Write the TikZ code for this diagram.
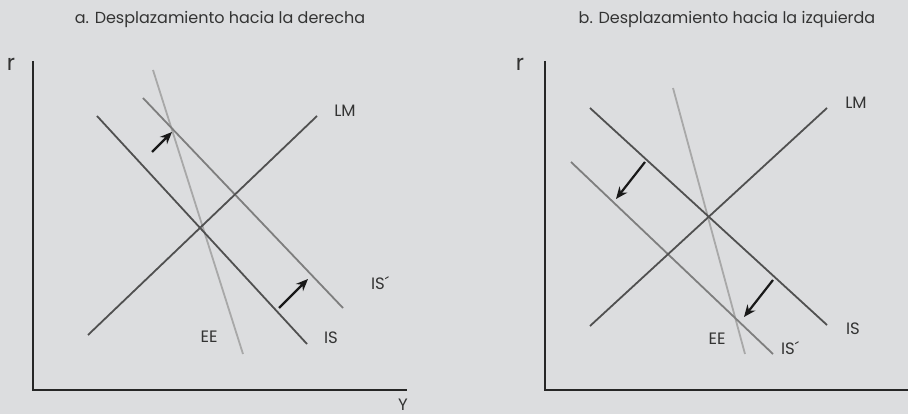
\documentclass[tikz,border=0pt]{standalone}
\usepackage{fontspec}
\setmainfont{Poppins}
\usetikzlibrary{arrows.meta}
\definecolor{bg}{HTML}{DCDDDF}
\definecolor{txt}{HTML}{333333}
\definecolor{dark}{HTML}{505050}
\definecolor{mid}{HTML}{7E7E7E}
\definecolor{light}{HTML}{A8A8A8}
\tikzset{
  axis/.style={line width=2.6pt, draw=black!85},
  curvedark/.style={line width=1.8pt, draw=dark},
  curvemid/.style={line width=1.8pt, draw=mid},
  curvelight/.style={line width=1.8pt, draw=light},
  shiftarrow/.style={line width=2.2pt, draw=black!90, -{Stealth[length=12pt,width=10pt]}},
  lbl/.style={font=\fontsize{16.5}{18}\selectfont, text=txt, inner sep=0pt},
  rlbl/.style={font=\fontsize{22}{24}\selectfont, text=txt, inner sep=0pt},
  ttl/.style={font=\fontsize{16}{18}\selectfont, text=txt, inner sep=0pt},
}
\begin{document}
\begin{tikzpicture}[x=1pt,y=-1pt]
\fill[bg] (0,0) rectangle (908,414);
\useasboundingbox (0,0) rectangle (908,414);
% ---------- panel a ----------
\node[ttl] (ta) at (220,19) {a. Desplazamiento hacia la derecha};
\node[rlbl] (ra) at (11,64) {r};
\coordinate (a0) at (33,390);
\coordinate (ay) at (33,61);
\coordinate (ax) at (407,390);
\draw[axis] (ay) -- (a0) -- (ax);
\node[lbl, anchor=base] (Ya) at (403,410) {Y};
\coordinate (aLM1) at (88,335); \coordinate (aLM2) at (317,116);
\coordinate (aIS1) at (97,116); \coordinate (aIS2) at (307,344);
\coordinate (aISp1) at (143,98); \coordinate (aISp2) at (343,308);
\coordinate (aEE1) at (153,70); \coordinate (aEE2) at (243,354);
\draw[curvelight] (aEE1) -- (aEE2);
\draw[curvemid] (aISp1) -- (aISp2);
\draw[curvedark] (aLM1) -- (aLM2);
\draw[curvedark] (aIS1) -- (aIS2);
\node[lbl] (aLMl) at (345,111) {LM};
\node[lbl] (aISl) at (331,338) {IS};
\node[lbl] (aISpl) at (380,283) {IS´};
\node[lbl] (aEEl) at (209,337) {EE};
\coordinate (aA1s) at (152,152); \coordinate (aA1e) at (172,132);
\coordinate (aA2s) at (279,308); \coordinate (aA2e) at (308,279);
\draw[shiftarrow] (aA1s) -- (aA1e);
\draw[shiftarrow] (aA2s) -- (aA2e);
% ---------- panel b ----------
\node[ttl] (tb) at (727,19) {b. Desplazamiento hacia la izquierda};
\node[rlbl] (rb) at (520,64) {r};
\coordinate (b0) at (545,390);
\coordinate (by) at (545,61);
\coordinate (bx) at (908,390);
\draw[axis] (by) -- (b0) -- (bx);
\coordinate (bLM1) at (590,326); \coordinate (bLM2) at (827,108);
\coordinate (bIS1) at (590,108); \coordinate (bIS2) at (827,325);
\coordinate (bISp1) at (571,162); \coordinate (bISp2) at (773,354);
\coordinate (bEE1) at (673,88); \coordinate (bEE2) at (745,354);
\draw[curvelight] (bEE1) -- (bEE2);
\draw[curvemid] (bISp1) -- (bISp2);
\draw[curvedark] (bLM1) -- (bLM2);
\draw[curvedark] (bIS1) -- (bIS2);
\node[lbl] (bLMl) at (856,103) {LM};
\node[lbl] (bISl) at (853,329) {IS};
\node[lbl] (bISpl) at (790,348) {IS´};
\node[lbl] (bEEl) at (717,339) {EE};
\coordinate (bA1s) at (645,162); \coordinate (bA1e) at (616,199);
\coordinate (bA2s) at (773,280); \coordinate (bA2e) at (744,317);
\draw[shiftarrow] (bA1s) -- (bA1e);
\draw[shiftarrow] (bA2s) -- (bA2e);
\end{tikzpicture}
\end{document}
